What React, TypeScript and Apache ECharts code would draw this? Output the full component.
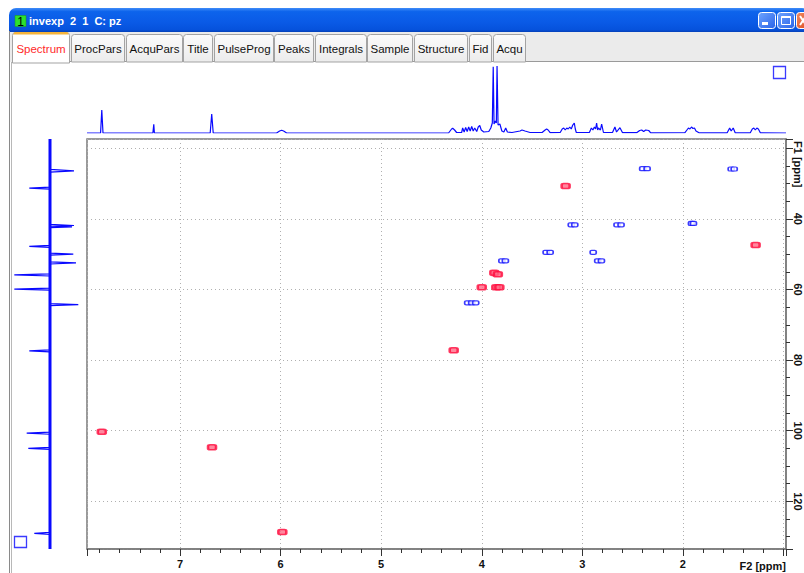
import React, { useEffect, useRef } from "react";
import * as echarts from "echarts";

// ---------- data ----------
const X_MIN = 0.975; // F2 (1H) ppm, right edge
const X_MAX = 7.925; // left edge
const Y_MIN = 17.4; // F1 (13C) ppm, top edge
const Y_MAX = 133.5; // bottom edge

// 2D cross peaks [F2 ppm, F1 ppm]
const positivePeaks: [number, number][] = [
  [2.4, 25.8], [2.356, 25.8],
  [1.52, 25.9], [1.49, 25.9],
  [3.11, 41.7], [3.075, 41.7],
  [2.655, 41.7], [2.615, 41.7],
  [1.915, 41.3], [1.895, 41.3],
  [3.36, 49.5], [3.32, 49.5],
  [2.892, 49.5],
  [3.8, 51.9], [3.765, 51.9],
  [2.847, 51.9], [2.81, 51.9],
  [4.14, 63.8], [4.1, 63.8], [4.06, 63.8],
];
const negativePeaks: [number, number][] = [
  [3.166, 30.7],
  [1.277, 47.4],
  [3.875, 55.3], [3.84, 55.7],
  [4.0, 59.4],
  [3.855, 59.4], [3.825, 59.4],
  [4.279, 77.2],
  [7.778, 100.3],
  [6.682, 104.7],
  [5.983, 128.7],
];

// F2 projection (1H spectrum) [ppm, intensity]
const topSpectrum: [number, number][] = [
  [7.925, 0],
  [7.79, 0], [7.778, 23], [7.766, 0],
  [7.27, 0], [7.261, 8.7], [7.255, 0],
  [6.7, 0], [6.685, 19], [6.67, 0],
  [6.04, 0], [6.01, 2], [5.99, 2.7], [5.97, 2], [5.94, 0],
  [4.33, 0], [4.3, 4], [4.289, 4.7], [4.27, 3], [4.25, 0.5],
  [4.2, 0.5], [4.19, 5], [4.175, 1], [4.16, 5.5], [4.145, 1.5], [4.13, 6], [4.115, 2], [4.1, 6.5],
  [4.085, 2], [4.07, 5], [4.05, 1.5], [4.035, 6], [4.02, 7.5], [4.005, 3], [3.98, 1],
  [3.93, 1.5], [3.91, 5], [3.895, 10], [3.886, 66.3], [3.878, 9], [3.865, 12], [3.855, 10],
  [3.848, 67], [3.838, 8], [3.82, 9], [3.8, 2], [3.78, 1], [3.762, 5], [3.745, 1],
  [3.7, 0.5], [3.62, 2], [3.6, 3], [3.57, 2], [3.52, 0.5],
  [3.4, 0.5], [3.37, 3], [3.355, 4], [3.34, 3], [3.32, 0.3],
  [3.22, 0.5], [3.2, 4], [3.185, 5], [3.17, 3], [3.155, 5], [3.14, 4], [3.125, 6], [3.11, 4],
  [3.095, 8], [3.08, 10], [3.07, 4], [3.06, 0.5],
  [2.93, 0.5], [2.91, 5], [2.895, 3], [2.88, 6], [2.868, 4], [2.858, 10], [2.848, 3], [2.84, 5],
  [2.82, 3], [2.808, 9], [2.79, 0.5],
  [2.7, 0.5], [2.676, 6], [2.66, 1], [2.626, 5.3], [2.6, 0.3],
  [2.46, 0.3], [2.43, 2.5], [2.41, 3], [2.39, 1.5], [2.37, 3], [2.34, 2.5], [2.32, 0.2],
  [1.98, 0.3], [1.96, 3], [1.945, 5], [1.93, 4], [1.915, 6], [1.9, 4.5], [1.885, 5], [1.87, 2], [1.84, 0.2],
  [1.56, 0.2], [1.535, 5], [1.52, 2], [1.5, 5], [1.48, 0.2],
  [1.33, 0.2], [1.31, 4], [1.295, 5], [1.28, 3], [1.265, 5], [1.25, 4], [1.23, 0.2],
  [0.975, 0],
];

// F1 projection (13C trace) [intensity, ppm]
const leftSpectrum: [number, number][] = [
  [0, 17.4],
  [0, 26.0], [24, 26.4], [0, 26.8],
  [0, 31.0], [-20.7, 31.3], [0, 31.6],
  [0, 41.6], [24, 41.9], [0, 42.1], [22, 42.3], [0, 42.5],
  [0, 47.5], [-20.7, 47.8], [0, 48.1],
  [0, 49.7], [23.3, 50.0], [0, 50.3],
  [0, 52.2], [26, 52.5], [0, 52.8],
  [0, 55.6], [-35.7, 55.9], [0, 56.2],
  [0, 59.6], [-35.7, 59.9], [0, 60.2],
  [0, 64.0], [28.3, 64.3], [0, 64.6],
  [0, 77.1], [-20.7, 77.4], [0, 77.7],
  [0, 100.4], [-23.3, 100.7], [0, 101.0],
  [0, 104.7], [-21.7, 105.0], [0, 105.3],
  [0, 128.8], [-15.7, 129.1], [0, 129.4],
  [0, 133.5],
];
const leftBaseline: [number, number][] = [
  [0, 17.4],
  [0, 133.5],
];

const TABS = ["Spectrum", "ProcPars", "AcquPars", "Title", "PulseProg", "Peaks", "Integrals", "Sample", "Structure", "Fid", "Acqu"];
const TITLE = "invexp  2  1  C: pz";
const X_UNIT = "F2 [ppm]";
const Y_UNIT = "F1 [ppm]";

// ---------- layout ----------
const TAB_LEFT = [12, 71, 126, 183, 214, 274, 315, 367, 414, 469, 493];
const TAB_RIGHT = [69, 124, 182, 212, 273, 313, 366, 412, 467, 491, 525];
const FONT = '"Liberation Sans", Arial, sans-serif';
const BLUE = "#0a0aff";
const RED = "#ff0a3c";

function chromeGraphics(): any[] {
  const g: any[] = [];
  // tab band
  g.push({ type: "rect", shape: { x: 9, y: 31, width: 795, height: 31 }, style: { fill: "#ebebeb" } });
  // title bar
  g.push({
    type: "rect",
    shape: { x: 9, y: 8, width: 800, height: 24, r: [7, 7, 0, 0] },
    style: {
      fill: new echarts.graphic.LinearGradient(0, 0, 0, 1, [
        { offset: 0, color: "#3f8cf8" },
        { offset: 0.15, color: "#0d64ec" },
        { offset: 0.6, color: "#0a5ae6" },
        { offset: 0.9, color: "#0652dc" },
        { offset: 1, color: "#0440b8" },
      ]),
    },
  });
  g.push({ type: "rect", shape: { x: 15, y: 15.5, width: 11, height: 11 }, style: { fill: "#2ee02e", stroke: "#1a9a1a", lineWidth: 0.5 } });
  g.push({ type: "text", x: 20.5, y: 21.5, style: { text: "1", font: `12px ${FONT}`, fill: "#000", align: "center", verticalAlign: "middle" } });
  g.push({ type: "text", x: 29, y: 21, style: { text: TITLE, font: `bold 11px ${FONT}`, fill: "#ffffff", align: "left", verticalAlign: "middle" } });
  // window buttons
  const btnBlue = new echarts.graphic.LinearGradient(0, 0, 1, 1, [
    { offset: 0, color: "#6ea4ff" },
    { offset: 1, color: "#2a64e8" },
  ]);
  g.push({ type: "rect", shape: { x: 758.5, y: 12.5, width: 17, height: 16, r: 3 }, style: { fill: btnBlue, stroke: "#ffffff", lineWidth: 1 } });
  g.push({ type: "rect", shape: { x: 762, y: 22, width: 6, height: 3 }, style: { fill: "#ffffff" } });
  g.push({ type: "rect", shape: { x: 777.5, y: 12.5, width: 17, height: 16, r: 3 }, style: { fill: btnBlue, stroke: "#ffffff", lineWidth: 1 } });
  g.push({ type: "rect", shape: { x: 781.5, y: 16.5, width: 9, height: 8 }, style: { fill: "none", stroke: "#ffffff", lineWidth: 1 } });
  g.push({ type: "rect", shape: { x: 781.5, y: 16, width: 9, height: 2 }, style: { fill: "#ffffff" } });
  g.push({
    type: "rect",
    shape: { x: 796.5, y: 12.5, width: 17, height: 16, r: 3 },
    style: {
      fill: new echarts.graphic.LinearGradient(0, 0, 1, 1, [
        { offset: 0, color: "#f0895f" },
        { offset: 1, color: "#d9461c" },
      ]),
      stroke: "#ffffff",
      lineWidth: 1,
    },
  });
  g.push({ type: "line", shape: { x1: 800, y1: 16, x2: 806, y2: 25 }, style: { stroke: "#ffffff", lineWidth: 2 } });
  g.push({ type: "line", shape: { x1: 800, y1: 25, x2: 806, y2: 16 }, style: { stroke: "#ffffff", lineWidth: 2 } });
  // window left frame
  g.push({ type: "line", shape: { x1: 9.5, y1: 31, x2: 9.5, y2: 573 }, style: { stroke: "#8a8a8a", lineWidth: 1 } });
  g.push({ type: "line", shape: { x1: 11.5, y1: 62, x2: 11.5, y2: 573 }, style: { stroke: "#b8b8b8", lineWidth: 1 } });
  // tab strip bottom line
  g.push({ type: "line", shape: { x1: 12, y1: 61.5, x2: 804, y2: 61.5 }, style: { stroke: "#9a9a9a", lineWidth: 1 } });
  TABS.forEach((name, i) => {
    const l = TAB_LEFT[i];
    const r = TAB_RIGHT[i];
    const sel = i === 0;
    const top = sel ? 32.5 : 34.5;
    g.push({
      type: "rect",
      shape: { x: l + 0.5, y: top, width: r - l, height: 62 - top + (sel ? 1 : 0), r: [3, 3, 0, 0] },
      style: {
        fill: sel
          ? "#ffffff"
          : new echarts.graphic.LinearGradient(0, 0, 0, 1, [
              { offset: 0, color: "#fbfbfb" },
              { offset: 1, color: "#ececec" },
            ]),
        stroke: "#a3a3a3",
        lineWidth: 1,
      },
    });
    if (sel) {
      g.push({ type: "rect", shape: { x: l + 1.5, y: 32, width: r - l - 2, height: 2.5, r: [2, 2, 0, 0] }, style: { fill: "#f5b43c" } });
    }
    g.push({
      type: "text",
      x: (l + r) / 2 + 0.5,
      y: 49,
      style: { text: name, font: `11.5px ${FONT}`, fill: sel ? "#ff2a2a" : "#111111", align: "center", verticalAlign: "middle" },
    });
  });
  // small blue squares
  g.push({ type: "rect", shape: { x: 773.5, y: 66.5, width: 12, height: 12 }, style: { fill: "none", stroke: "#3a3aff", lineWidth: 1.3 } });
  g.push({ type: "rect", shape: { x: 14.5, y: 536.5, width: 12, height: 11 }, style: { fill: "none", stroke: "#3a3aff", lineWidth: 1.3 } });
  // axis unit labels
  g.push({ type: "text", x: 786, y: 566, style: { text: X_UNIT, font: `bold 11px ${FONT}`, fill: "#111", align: "right", verticalAlign: "middle" } });
  g.push({
    type: "text",
    x: 798,
    y: 141,
    rotation: -Math.PI / 2,
    style: { text: Y_UNIT, font: `bold 11px ${FONT}`, fill: "#111", align: "left", verticalAlign: "middle" },
  });
  return g;
}

export default function App() {
  const ref = useRef<HTMLDivElement>(null);
  useEffect(() => {
    if (!ref.current) return;
    const chart = echarts.init(ref.current, undefined, { renderer: "svg" });
    const labelStyle = { color: "#111", fontWeight: "bold" as const, fontSize: 11, fontFamily: FONT };
    const gridLine = { show: true, lineStyle: { color: "#b0b0b0", width: 1, type: [1, 3] as any } };
    const option: any = {
      animation: false,
      backgroundColor: "#ffffff",
      graphic: chromeGraphics(),
      grid: [
        { left: 87, top: 139, width: 699, height: 410, show: true, borderColor: "#7a7a7a", borderWidth: 1.5, backgroundColor: "transparent" },
        { left: 87, top: 60, width: 699, height: 73 },
        { left: 10, top: 139, width: 76, height: 410 },
      ],
      xAxis: [
        {
          gridIndex: 0,
          type: "value",
          inverse: true,
          min: X_MIN,
          max: X_MAX,
          position: "bottom",
          axisLine: { show: true, lineStyle: { color: "#7a7a7a", width: 1.5 } },
          axisTick: { show: true, length: 7, lineStyle: { color: "#333", width: 1 } },
          minorTick: { show: true, splitNumber: 5, length: 4, lineStyle: { color: "#333", width: 1 } },
          axisLabel: {
            ...labelStyle,
            margin: 9,
            showMinLabel: false,
            showMaxLabel: false,
            formatter: (v: number) => (Math.abs(v - 1) < 1e-6 ? "" : String(v)),
          },
          splitLine: gridLine,
        },
        { gridIndex: 1, type: "value", inverse: true, min: X_MIN, max: X_MAX, show: false },
        { gridIndex: 2, type: "value", min: -40, max: 36, show: false },
      ],
      yAxis: [
        {
          gridIndex: 0,
          type: "value",
          inverse: true,
          min: Y_MIN,
          max: Y_MAX,
          position: "right",
          axisLine: { show: true, lineStyle: { color: "#7a7a7a", width: 1.5 } },
          axisTick: { show: true, length: 7, lineStyle: { color: "#333", width: 1 } },
          minorTick: { show: true, splitNumber: 4, length: 4, lineStyle: { color: "#333", width: 1 } },
          axisLabel: {
            ...labelStyle,
            rotate: -90,
            margin: 6,
            showMinLabel: false,
            showMaxLabel: false,
            formatter: (v: number) => (Math.abs(v - 20) < 1e-6 ? "" : String(v)),
          },
          splitLine: gridLine,
        },
        { gridIndex: 1, type: "value", min: 0, max: 73, show: false },
        { gridIndex: 2, type: "value", inverse: true, min: Y_MIN, max: Y_MAX, show: false },
      ],
      series: [
        {
          type: "scatter",
          xAxisIndex: 0,
          yAxisIndex: 0,
          data: positivePeaks,
          symbol: "roundRect",
          symbolSize: [6, 4],
          itemStyle: { color: "#ffffff", borderColor: BLUE, borderWidth: 1.4 },
          z: 5,
        },
        {
          type: "scatter",
          xAxisIndex: 0,
          yAxisIndex: 0,
          data: negativePeaks,
          symbol: "roundRect",
          symbolSize: [8, 5],
          itemStyle: { color: "#ff6a86", borderColor: RED, borderWidth: 2 },
          z: 5,
        },
        {
          type: "line",
          xAxisIndex: 1,
          yAxisIndex: 1,
          data: topSpectrum,
          showSymbol: false,
          lineStyle: { color: BLUE, width: 1.2 },
        },
        {
          type: "line",
          xAxisIndex: 2,
          yAxisIndex: 2,
          data: leftBaseline,
          showSymbol: false,
          lineStyle: { color: BLUE, width: 3 },
        },
        {
          type: "line",
          xAxisIndex: 2,
          yAxisIndex: 2,
          data: leftSpectrum,
          showSymbol: false,
          lineStyle: { color: BLUE, width: 1.2 },
        },
      ],
    };
    chart.setOption(option);
    return () => chart.dispose();
  }, []);
  return <div ref={ref} style={{ position: "absolute", left: 0, top: 0, width: 804, height: 573 }} />;
}
